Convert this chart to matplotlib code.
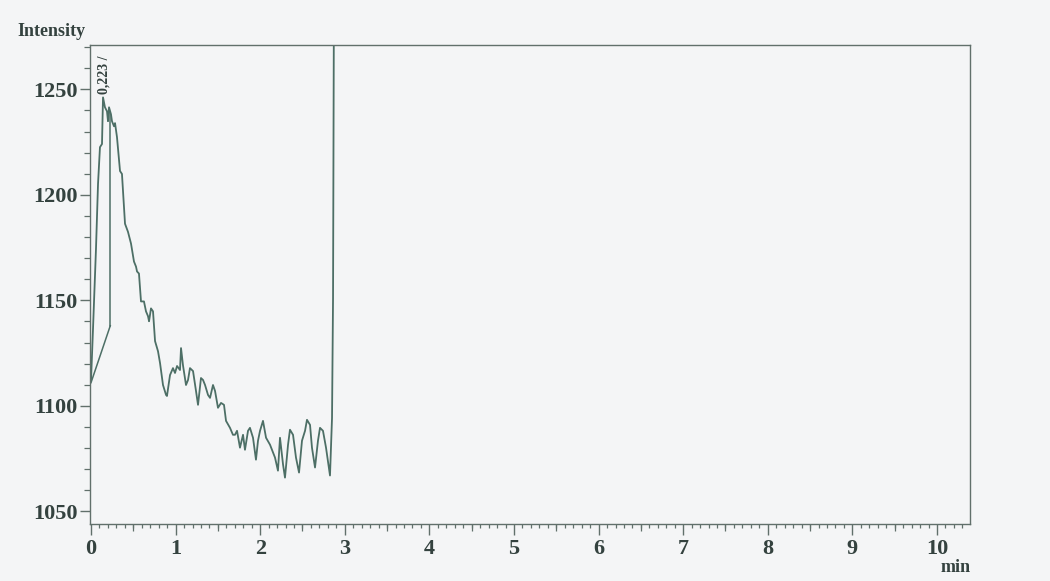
import matplotlib
matplotlib.use("Agg")
import matplotlib.pyplot as plt
from matplotlib.ticker import MultipleLocator, FixedLocator

# --- data ---
time_min = [0.000, 0.024, 0.059, 0.083, 0.106, 0.130, 0.142, 0.165, 0.189, 0.201,
            0.213, 0.236, 0.248, 0.272, 0.284, 0.307, 0.343, 0.366, 0.402, 0.437,
            0.473, 0.508, 0.532, 0.544, 0.567, 0.591, 0.626, 0.650, 0.674, 0.686,
            0.709, 0.733, 0.757, 0.792, 0.816, 0.851, 0.887, 0.898, 0.934, 0.969,
            0.993, 1.017, 1.052, 1.064, 1.087, 1.123, 1.147, 1.170, 1.206, 1.241,
            1.265, 1.300, 1.324, 1.348, 1.383, 1.407, 1.442, 1.466, 1.501, 1.537,
            1.572, 1.596, 1.643, 1.678, 1.702, 1.726, 1.761, 1.797, 1.820, 1.856,
            1.879, 1.915, 1.950, 1.974, 1.998, 2.033, 2.069, 2.116, 2.175, 2.210,
            2.234, 2.270, 2.293, 2.329, 2.352, 2.388, 2.423, 2.459, 2.494, 2.530,
            2.553, 2.589, 2.612, 2.648, 2.683, 2.707, 2.742, 2.778, 2.825, 2.849,
            2.861, 2.872]
intensity = [1111.8, 1136.8, 1174.5, 1205.2, 1222.6, 1224.1, 1246.2, 1241.5, 1239.6, 1234.9,
             1241.5, 1238.2, 1234.9, 1232.5, 1234.0, 1227.4, 1211.3, 1209.9, 1186.3, 1182.5,
             1176.9, 1168.4, 1166.0, 1163.7, 1162.7, 1149.5, 1149.5, 1144.8, 1142.5, 1140.1,
             1146.2, 1144.8, 1130.7, 1125.9, 1120.3, 1109.9, 1105.2, 1104.7, 1114.6, 1117.9,
             1115.6, 1118.9, 1117.0, 1127.4, 1119.3, 1109.9, 1112.3, 1117.9, 1116.5, 1107.1,
             1100.5, 1113.2, 1112.3, 1109.9, 1105.2, 1103.8, 1109.9, 1107.1, 1099.1, 1101.4,
             1100.5, 1092.9, 1089.6, 1086.3, 1086.3, 1088.2, 1080.2, 1086.3, 1079.2, 1088.2,
             1089.6, 1084.9, 1074.5, 1083.5, 1088.2, 1092.9, 1084.9, 1081.6, 1075.5, 1069.3,
             1084.9, 1072.2, 1066.0, 1081.6, 1088.7, 1086.3, 1075.5, 1068.4, 1083.5, 1088.2,
             1093.4, 1091.0, 1080.2, 1070.8, 1083.5, 1089.6, 1088.2, 1080.2, 1067.0, 1094.3,
             1150.9, 1300.0]

# integration baseline and drop line of the labelled peak
baseline_t = [0.0, 0.228]
baseline_v = [1111.0, 1138.0]
drop_t = [0.228, 0.228]
drop_v = [1138.0, 1239.0]
peak_label = "0,223 /"
peak_label_t = 0.15
peak_label_v = 1248.0

y_ticks = [1050, 1100, 1150, 1200, 1250]
x_ticks = list(range(0, 11))

# --- styling ---
bg = "#f4f5f6"
line_c = "#4d6f66"
axis_c = "#61706b"
text_c = "#34423f"
serif = ["Liberation Serif", "DejaVu Serif"]

fig = plt.figure(figsize=(10.5, 5.81), dpi=100, facecolor=bg)
ax = fig.add_axes([0.0857, 0.098, 0.8381, 0.8245], facecolor=bg)

ax.plot(time_min, intensity, color=line_c, lw=1.3, solid_joinstyle="round")
ax.plot(baseline_t, baseline_v, color=line_c, lw=1.1)
ax.plot(drop_t, drop_v, color=line_c, lw=1.1)
ax.text(peak_label_t, peak_label_v, peak_label, rotation=90, ha="center", va="bottom",
        fontsize=10, family=serif, color=text_c, fontweight="bold")

ax.set_xlim(-0.012, 10.39)
ax.set_ylim(1044, 1271)

for s in ax.spines.values():
    s.set_color(axis_c)
    s.set_linewidth(1.0)

ax.set_yticks(y_ticks)
ax.yaxis.set_minor_locator(MultipleLocator(10))
ax.set_xticks(x_ticks)
ax.xaxis.set_minor_locator(MultipleLocator(0.1))
ax.tick_params(axis="both", which="major", direction="out", color=axis_c,
               labelcolor=text_c, labelsize=16, width=1.0)
ax.tick_params(axis="y", which="major", length=7, pad=2)
ax.tick_params(axis="y", which="minor", length=4, color=axis_c, width=0.9)
ax.tick_params(axis="x", which="major", length=8, pad=3)
ax.tick_params(axis="x", which="minor", length=3, color=axis_c, width=0.9)
for lab in ax.get_xticklabels() + ax.get_yticklabels():
    lab.set_family(serif)
    lab.set_fontweight("bold")

# half-minute ticks (medium length)
ax2 = ax.twiny()
ax2.set_xlim(ax.get_xlim())
ax2.xaxis.set_ticks_position("bottom")
ax2.xaxis.set_major_locator(FixedLocator([k + 0.5 for k in range(0, 10)]))
ax2.tick_params(axis="x", which="major", length=5, direction="out", color=axis_c,
                width=0.9, labelbottom=False, labeltop=False)
for s in ax2.spines.values():
    s.set_visible(False)

fig.text(17 / 1050, 1 - 32 / 581, "Intensity", ha="left", va="center", fontsize=13,
         family=serif, color=text_c, fontweight="bold")
fig.text(956 / 1050, 1 - 567 / 581, "min", ha="center", va="center", fontsize=13,
         family=serif, color=text_c, fontweight="bold")

fig.savefig("out.png", dpi=100, facecolor=bg)
